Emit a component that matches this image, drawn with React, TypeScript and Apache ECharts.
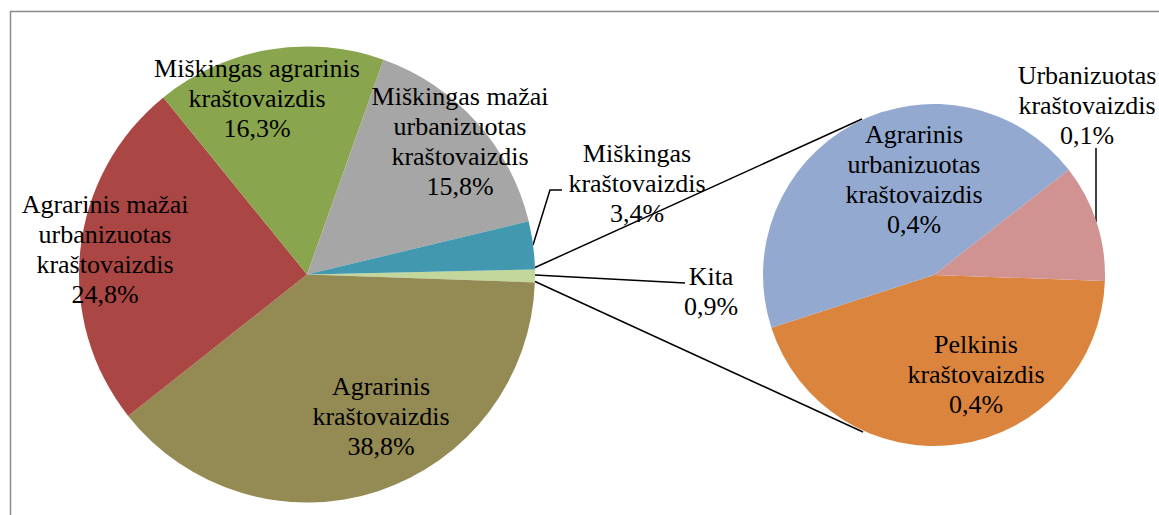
import React, { useEffect, useRef } from 'react';
import * as echarts from 'echarts';

// ---- Data ----
const mainCategories = [
  'Kita',
  'Agrarinis kraštovaizdis',
  'Agrarinis mažai urbanizuotas kraštovaizdis',
  'Miškingas agrarinis kraštovaizdis',
  'Miškingas mažai urbanizuotas kraštovaizdis',
  'Miškingas kraštovaizdis',
];
const mainLabelText = [
  'Kita',
  'Agrarinis\nkraštovaizdis',
  'Agrarinis mažai\nurbanizuotas\nkraštovaizdis',
  'Miškingas agrarinis\nkraštovaizdis',
  'Miškingas mažai\nurbanizuotas\nkraštovaizdis',
  'Miškingas\nkraštovaizdis',
];
const mainValues = [0.9, 38.8, 24.8, 16.3, 15.8, 3.4];

const subCategories = [
  'Pelkinis kraštovaizdis',
  'Agrarinis urbanizuotas kraštovaizdis',
  'Urbanizuotas kraštovaizdis',
];
const subLabelText = [
  'Pelkinis\nkraštovaizdis',
  'Agrarinis\nurbanizuotas\nkraštovaizdis',
  'Urbanizuotas\nkraštovaizdis',
];
const subValues = [0.4, 0.4, 0.1];

// ---- Styles / layout ----
const mainColors = ['#C3D69B', '#948A54', '#AA4643', '#89A54E', '#A6A6A6', '#4198AF'];
const subColors = ['#DB843D', '#93A9CF', '#D19392'];

const mainLabelPos: [number, number][] = [
  [711, 291],
  [381, 416],
  [105, 249],
  [257, 98],
  [460, 141],
  [637, 183],
];
const mainGuides: ([number, number][] | null)[] = [
  [[535, 275], [685, 283]],
  null,
  null,
  null,
  null,
  [[533, 245], [550, 190], [562, 190]],
];
const subLabelPos: [number, number][] = [
  [976, 374],
  [914, 179],
  [1087, 105],
];
const subGuides: ([number, number][] | null)[] = [
  null,
  null,
  [[1096, 222], [1096, 148]],
];

const fmtPct = (v: number) => v.toFixed(1).replace('.', ',') + '%';

const FONT = 'Liberation Serif';

const toRich = (s: string) =>
  s
    .split('\n')
    .map((line) => '{t|' + line + '}')
    .join('\n');

export default function App() {
  const ref = useRef<HTMLDivElement>(null);

  useEffect(() => {
    if (!ref.current) return;
    const chart = echarts.init(ref.current, null, { renderer: 'svg' });

    const textSt = {
      color: '#000',
      fontFamily: FONT,
      fontSize: 26,
      lineHeight: 30,
    };

    const labelBase = {
      show: true,
      position: 'outside',
      ...textSt,
      textBorderWidth: 0,
      align: 'center',
      verticalAlign: 'middle',
      rich: { t: { ...textSt, align: 'center' } },
    };

    const makeData = (
      names: string[],
      values: number[],
      colors: string[],
      guides: ([number, number][] | null)[]
    ) =>
      names.map((n, i) => ({
        name: n,
        value: values[i],
        itemStyle: { color: colors[i] },
        labelLine: { show: !!guides[i], lineStyle: { color: '#000', width: 1.5 } },
      }));

    const makeLayout =
      (pos: [number, number][], guides: ([number, number][] | null)[]) =>
      (params: any) => {
        const i = params.dataIndex;
        const res: any = { x: pos[i][0], y: pos[i][1], align: 'center', verticalAlign: 'middle' };
        if (guides[i]) res.labelLinePoints = guides[i];
        return res;
      };

    chart.setOption({
      animation: false,
      backgroundColor: '#fff',
      textStyle: { fontFamily: FONT },
      graphic: [
        { type: 'line', shape: { x1: 10, y1: 11.5, x2: 1159, y2: 11.5 }, style: { stroke: '#8a8a8a', lineWidth: 1.5 } },
        { type: 'line', shape: { x1: 10.5, y1: 11, x2: 10.5, y2: 515 }, style: { stroke: '#8a8a8a', lineWidth: 1.5 } },
        { type: 'line', shape: { x1: 535, y1: 267.5, x2: 862, y2: 119 }, style: { stroke: '#000', lineWidth: 1.5 } },
        { type: 'line', shape: { x1: 535, y1: 281.5, x2: 863, y2: 432 }, style: { stroke: '#000', lineWidth: 1.5 } },
      ],
      series: [
        {
          type: 'pie',
          center: [307, 274.5],
          radius: 228,
          startAngle: 1.25,
          clockwise: true,
          avoidLabelOverlap: false,
          silent: true,
          label: {
            ...labelBase,
            formatter: (p: any) => toRich(mainLabelText[p.dataIndex] + '\n' + fmtPct(p.value)),
          },
          labelLayout: makeLayout(mainLabelPos, mainGuides),
          data: makeData(mainCategories, mainValues, mainColors, mainGuides),
        },
        {
          type: 'pie',
          center: [934, 275],
          radius: 171,
          startAngle: -2,
          clockwise: true,
          avoidLabelOverlap: false,
          silent: true,
          label: {
            ...labelBase,
            formatter: (p: any) => toRich(subLabelText[p.dataIndex] + '\n' + fmtPct(p.value)),
          },
          labelLayout: makeLayout(subLabelPos, subGuides),
          data: makeData(subCategories, subValues, subColors, subGuides),
        },
      ],
    });

    return () => chart.dispose();
  }, []);

  return (
    <div
      ref={ref}
      style={{
        position: 'fixed',
        left: 0,
        top: 0,
        width: 1159,
        height: 515,
        background: '#fff',
        fontFamily: '"Liberation Serif", serif',
      }}
    />
  );
}
